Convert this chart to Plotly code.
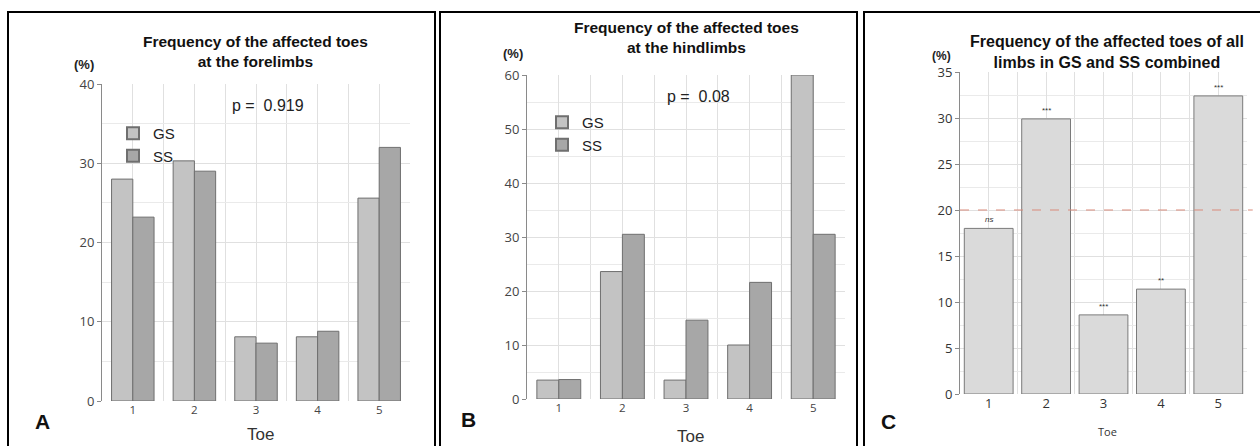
import plotly.graph_objects as go

W, H = 1260, 446

# ---------------- data ----------------
toes = [1, 2, 3, 4, 5]
tick_labels = ["1", "2", "3", "4", "5"]

fore_gs = [28.0, 30.3, 8.1, 8.1, 25.6]
fore_ss = [23.2, 29.0, 7.3, 8.8, 32.0]
fore_p = "p =  0.919"

hind_gs = [3.5, 23.6, 3.5, 10.0, 60.0]
hind_ss = [3.6, 30.5, 14.6, 21.6, 30.5]
hind_p = "p =  0.08"

combined = [18.0, 29.9, 8.6, 11.4, 32.4]
combined_sig = ["<i>ns</i>", "***", "***", "**", "***"]
expected_pct = 20

titles = ["Frequency of the affected toes<br>at the forelimbs",
          "Frequency of the affected toes<br>at the hindlimbs",
          "Frequency of the affected toes of all<br>limbs in GS and SS combined"]
panel_letters = ["A", "B", "C"]

GS_COLOR = "#c3c3c3"
SS_COLOR = "#a7a7a7"
C_COLOR = "#dadada"
EDGE = "#6f6f6f"


def px_x(x):
    return x / W


def px_y(y):
    return 1 - y / H


fig = go.Figure()

# Panel A
fig.add_trace(go.Bar(x=toes, y=fore_gs, name="GS", marker=dict(color=GS_COLOR, line=dict(color=EDGE, width=1)),
                     xaxis="x", yaxis="y", legend="legend"))
fig.add_trace(go.Bar(x=toes, y=fore_ss, name="SS", marker=dict(color=SS_COLOR, line=dict(color=EDGE, width=1)),
                     xaxis="x", yaxis="y", legend="legend"))
# Panel B
fig.add_trace(go.Bar(x=toes, y=hind_gs, name="GS", marker=dict(color=GS_COLOR, line=dict(color=EDGE, width=1)),
                     xaxis="x2", yaxis="y2", legend="legend2"))
fig.add_trace(go.Bar(x=toes, y=hind_ss, name="SS", marker=dict(color=SS_COLOR, line=dict(color=EDGE, width=1)),
                     xaxis="x2", yaxis="y2", legend="legend2"))
# Panel C
fig.add_trace(go.Bar(x=toes, y=combined, name="combined", showlegend=False, width=0.85,
                     marker=dict(color=C_COLOR, line=dict(color="#7a7a7a", width=1)),
                     xaxis="x3", yaxis="y3"))

ytick_font = dict(family="Open Sans, DejaVu Sans, sans-serif", size=13, color="#444")
xtick_font = dict(family="Open Sans, DejaVu Sans, sans-serif", size=11.5, color="#444")
grid = "#e0e0e0"
minor_grid = "#eaeaea"


def xaxis(x0, x1, anchor, font=xtick_font):
    return dict(domain=[px_x(x0), px_x(x1)], range=[0.5, 5.5], tickmode="array", tickvals=toes,
                ticktext=tick_labels, showgrid=True, gridcolor=grid, gridwidth=1,
                minor=dict(tickvals=[1.5, 2.5, 3.5, 4.5], showgrid=True, gridcolor=grid),
                showline=False, zeroline=False, ticks="", tickfont=font, anchor=anchor, fixedrange=True)


def yaxis(y_bottom, y_top, rng, dtick, minor_dtick, anchor, tickfont=ytick_font):
    return dict(domain=[px_y(y_bottom), px_y(y_top)], range=rng, dtick=dtick, tick0=0,
                showgrid=True, gridcolor=grid, zeroline=False,
                minor=dict(dtick=minor_dtick, tick0=0, showgrid=True, gridcolor=minor_grid),
                showline=True, linecolor="#8a8a8a", linewidth=1, ticks="outside", ticklen=4,
                tickcolor="#8a8a8a", tickfont=tickfont, anchor=anchor, fixedrange=True)


fig.update_layout(
    width=W, height=H, margin=dict(l=0, r=0, t=0, b=0, autoexpand=False),
    paper_bgcolor="white", plot_bgcolor="white",
    barmode="group", bargap=0.31, bargroupgap=0,
    showlegend=True,
    xaxis=xaxis(102, 410, "y"),
    yaxis=yaxis(401, 84, [0, 40], 10, 5, "x"),
    xaxis2=xaxis(527, 845, "y2"),
    yaxis2=yaxis(399, 75, [0, 60], 10, 5, "x2"),
    xaxis3=xaxis(960, 1247, "y3", font=dict(family="Open Sans, DejaVu Sans, sans-serif", size=13, color="#333")),
    yaxis3=yaxis(394, 72, [0, 35], 5, 2.5, "x3",
                 tickfont=dict(family="Open Sans, DejaVu Sans, sans-serif", size=13, color="#333")),
    legend=dict(x=px_x(113), y=px_y(117), xanchor="left", yanchor="top", bgcolor="rgba(0,0,0,0)",
                font=dict(family="Liberation Sans, Arial, sans-serif", size=15, color="#222"),
                itemsizing="constant", tracegroupgap=0),
    legend2=dict(x=px_x(542), y=px_y(106), xanchor="left", yanchor="top", bgcolor="rgba(0,0,0,0)",
                 font=dict(family="Liberation Sans, Arial, sans-serif", size=15, color="#222"),
                 itemsizing="constant", tracegroupgap=0),
)

# Panel frames
frames = [(8, 435), (440, 857), (864, 1264)]
for x0, x1 in frames:
    fig.add_shape(type="rect", xref="paper", yref="paper", x0=px_x(x0), x1=px_x(x1),
                  y0=px_y(450), y1=px_y(12), line=dict(color="black", width=2), fillcolor="rgba(0,0,0,0)",
                  layer="above")

# Reference line at expected percentage (panel C)
fig.add_shape(type="line", xref="x3 domain", yref="y3", x0=0, x1=1.02, y0=expected_pct, y1=expected_pct,
              line=dict(color="#d98a7a", width=1, dash="dash"))


def label(cx, cy, text, font):
    fig.add_annotation(x=px_x(cx), y=px_y(cy), xref="paper", yref="paper", text=text, showarrow=False,
                       xanchor="center", yanchor="middle", font=font, align="center")


title_pos = [(255, 51), (687, 37), (1107, 52)]
title_sizes = [15.5, 15.5, 16]
for (cx, cy), t, sz in zip(title_pos, titles, title_sizes):
    label(cx, cy, "<b>" + t + "</b>", dict(family="Liberation Sans, Arial, sans-serif", size=sz, color="#111"))

pct_pos = [(84, 65), (513, 53), (941, 56)]
pct_sizes = [13, 13, 12]
for (cx, cy), sz in zip(pct_pos, pct_sizes):
    label(cx, cy, "<b>(%)</b>", dict(family="Liberation Sans, Arial, sans-serif", size=sz, color="#222"))

# p-values
label(268, 105, fore_p, dict(family="Liberation Sans, Arial, sans-serif", size=16, color="#222"))
label(698, 97, hind_p, dict(family="Liberation Sans, Arial, sans-serif", size=16, color="#222"))

# Axis titles "Toe"
label(260, 434, "Toe", dict(family="Liberation Sans, Arial, sans-serif", size=17, color="#333"))
label(690, 436, "Toe", dict(family="Liberation Sans, Arial, sans-serif", size=17, color="#333"))
label(1107, 431, "Toe", dict(family="Open Sans, DejaVu Sans, sans-serif", size=11, color="#333"))

# Panel letters
letter_pos = [(43, 421), (468, 419), (888, 421)]
for (cx, cy), L in zip(letter_pos, panel_letters):
    label(cx, cy, "<b>" + L + "</b>", dict(family="Liberation Sans, Arial, sans-serif", size=21, color="#111"))

# significance labels on panel C
for t, v, s in zip(toes, combined, combined_sig):
    fig.add_annotation(x=t, y=v, xref="x3", yref="y3", text=s, showarrow=False, xanchor="center",
                       yanchor="bottom", yshift=2,
                       font=dict(family="Liberation Sans, Arial, sans-serif", size=8, color="#333"))

fig.write_html("out.html", config={"displayModeBar": False},
               post_script="document.body.style.margin='0';document.documentElement.style.overflow='hidden';")
